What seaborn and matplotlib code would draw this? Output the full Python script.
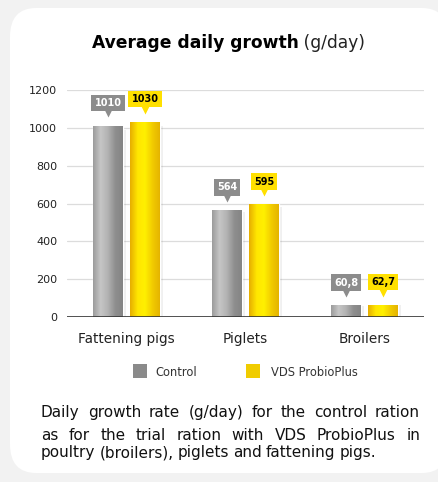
import matplotlib
matplotlib.use("Agg")
import matplotlib.pyplot as plt
import matplotlib.transforms as mtransforms
import numpy as np
import pandas as pd
import seaborn as sns
from matplotlib.colors import LinearSegmentedColormap
from matplotlib.patches import FancyBboxPatch, Rectangle

# data
categories = ["Fattening pigs", "Piglets", "Broilers"]
groups = ["Control", "VDS ProbioPlus"]
control = [1010, 564, 60.8]
probio = [1030, 595, 62.7]
control_labels = ["1010", "564", "60,8"]
probio_labels = ["1030", "595", "62,7"]
yticks = [0, 200, 400, 600, 800, 1000, 1200]

title_bold = "Average daily growth"
title_rest = " (g/day)"
caption = [
    "Daily growth rate (g/day) for the control ration",
    "as for the trial ration with VDS ProbioPlus in",
    "poultry (broilers), piglets and fattening pigs.",
]

GRAY = "#8a8a8a"
YELLOW = "#f5d000"
FONT = ["DejaVu Sans"]

df = pd.DataFrame({
    "category": categories * 2,
    "group": [groups[0]] * 3 + [groups[1]] * 3,
    "value": control + probio,
})

sns.set_theme(style="white")
plt.rcParams["font.family"] = FONT

W, H = 438, 482
fig = plt.figure(figsize=(W / 100, H / 100), dpi=100)
fig.patch.set_facecolor("#f2f2f2")
card = FancyBboxPatch((10 / W, 1 - 473 / H), 1.0, 465 / H,
                      transform=fig.transFigure,
                      boxstyle="round,pad=0,rounding_size=0.06",
                      facecolor="white", edgecolor="none", zorder=-10)
fig.patches.append(card)

ax = fig.add_axes([67 / W, 1 - 317 / H, 357 / W, 227 / H])
ax.set_facecolor("none")
sns.barplot(data=df, x="category", y="value", hue="group",
            palette=[GRAY, YELLOW], width=0.62, gap=0.2,
            legend=False, ax=ax, zorder=3)

# gradient fill for the bars
gray_cmap = LinearSegmentedColormap.from_list(
    "g", ["#9c9c9c", "#c6c6c6", "#b2b2b2", "#8e8e8e", "#858585"])
yel_cmap = LinearSegmentedColormap.from_list(
    "y", ["#e6ae00", "#ffe600", "#fff000", "#f2cc00", "#e4b400"])
grad = np.linspace(0, 1, 64).reshape(1, -1)
n = len(categories)
bars = list(ax.patches[:2 * n])
for i, bar in enumerate(bars):
    x0, y0 = bar.get_x(), bar.get_y()
    w, h = bar.get_width(), bar.get_height()
    # light shadow to the right
    ax.add_patch(Rectangle((x0 + w * 0.12, y0), w, h * 0.98,
                           facecolor="#000000", alpha=0.06, edgecolor="none",
                           zorder=2))
    cmap = gray_cmap if i < n else yel_cmap
    im = ax.imshow(grad, cmap=cmap, aspect="auto",
                   extent=(x0, x0 + w, y0, y0 + h), zorder=4)
    im.set_clip_path(bar)

# value callouts (box + small pointer)
for i, bar in enumerate(bars):
    xc = bar.get_x() + bar.get_width() / 2
    top = bar.get_height()
    is_ctrl = i < n
    lab = control_labels[i] if is_ctrl else probio_labels[i - n]
    fc = "#8c8c8c" if is_ctrl else "#ffe000"
    tc = "white" if is_ctrl else "black"
    ax.annotate(lab, (xc, top), xytext=(0, 16.5), textcoords="offset points",
                ha="center", va="center", fontsize=7, fontweight="bold",
                color=tc, zorder=6, annotation_clip=False,
                bbox=dict(boxstyle="square,pad=0.32", fc=fc, ec="none"))
    ax.plot([xc], [top], marker="v", markersize=5.5, color=fc, mec="none",
            transform=ax.transData + mtransforms.ScaledTranslation(
                0, 9 / 72, fig.dpi_scale_trans),
            zorder=6, clip_on=False)

ax.set_xlim(-0.5, 2.5)
ax.set_ylim(0, 1200)
ax.set_yticks(yticks)
ax.set_yticklabels([str(v) for v in yticks], fontsize=8, color="#222222")
ax.tick_params(axis="y", length=0, pad=7)
ax.tick_params(axis="x", length=0, pad=11, labelsize=9.8, labelcolor="#222222")
for t in yticks[1:]:
    ax.axhline(t, color="#dcdcdc", lw=0.9, zorder=1)
ax.axhline(0, color="#333333", lw=1.2, zorder=7)
ax.set_xlabel("")
ax.set_ylabel("")
for s in ax.spines.values():
    s.set_visible(False)

# title with bold + regular parts
renderer = fig.canvas.get_renderer()
ty = 1 - 43 / H
tb = fig.text(0, ty, title_bold, fontsize=12.3, fontweight="bold",
              color="black", va="center")
tr = fig.text(0, ty, title_rest, fontsize=12.3, color="#222222", va="center")
wb = tb.get_window_extent(renderer).width
wr = tr.get_window_extent(renderer).width
x_start = 228.5 - (wb + wr) / 2
tb.set_x(x_start / W)
tr.set_x((x_start + wb) / W)

# legend
fig.patches.append(Rectangle((133 / W, 1 - 378 / H), 14 / W, 14 / H,
                             transform=fig.transFigure, facecolor="#8a8a8a",
                             edgecolor="none"))
fig.text(155 / W, 1 - 372 / H, groups[0], fontsize=8.3, color="#333333",
         va="center")
fig.patches.append(Rectangle((246 / W, 1 - 378 / H), 14 / W, 14 / H,
                             transform=fig.transFigure, facecolor="#f0cc00",
                             edgecolor="none"))
fig.text(271 / W, 1 - 372 / H, groups[1], fontsize=8.3, color="#333333",
         va="center")

# justified caption
left_px, right_px = 41, 420
line_y = [417, 440, 457]
for k, line in enumerate(caption):
    words = line.split(" ")
    texts = [fig.text(0, 1 - line_y[k] / H, w, fontsize=11,
                      color="#111111", va="baseline") for w in words]
    widths = [t.get_window_extent(renderer).width for t in texts]
    if k < len(caption) - 1:
        gap = (right_px - left_px - sum(widths)) / (len(words) - 1)
    else:
        gap = 4.0
    x = left_px
    for t, w in zip(texts, widths):
        t.set_x(x / W)
        x += w + gap

fig.savefig("out.png", dpi=100, facecolor=fig.get_facecolor())
